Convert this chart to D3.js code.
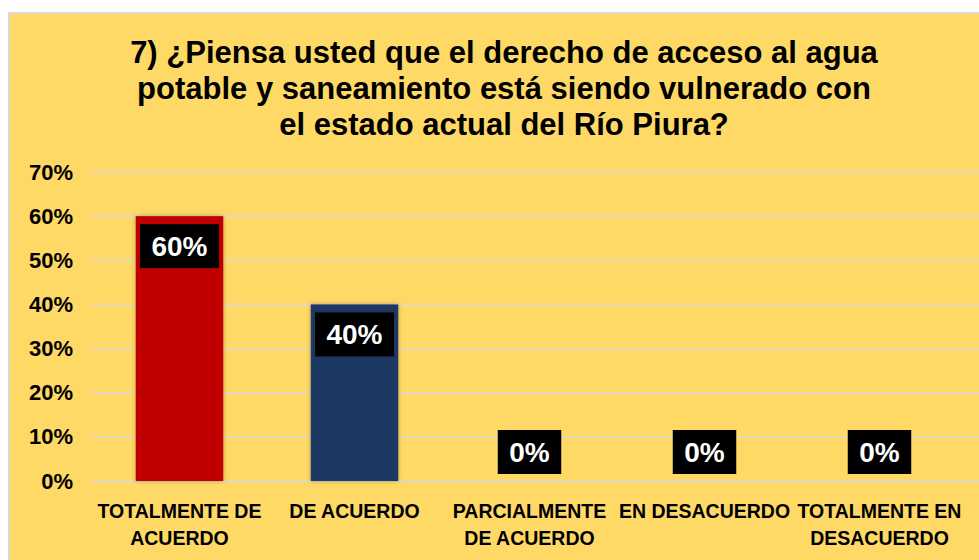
<!DOCTYPE html>
<html>
<head>
<meta charset="utf-8">
<script src="https://cdn.jsdelivr.net/npm/d3@7"></script>
<style>
    body { margin: 0; background: #fff; }
    svg { display: block; font-family: "Liberation Sans", Arial, sans-serif; }
</style>
</head>
<body>
<div id="chart"></div>
<script>
const titleLines = [
    '7) ¿Piensa usted que el derecho de acceso al agua',
    'potable y saneamiento está siendo vulnerado con',
    'el estado actual del Río Piura?'
];
const categories = [
    ['TOTALMENTE DE', 'ACUERDO'],
    ['DE ACUERDO'],
    ['PARCIALMENTE', 'DE ACUERDO'],
    ['EN DESACUERDO'],
    ['TOTALMENTE EN', 'DESACUERDO']
];
const values = [0.60, 0.40, 0, 0, 0];
const barColors = ['#C00000', '#1F3864', '#C00000', '#C00000', '#C00000'];
const yTicks = [0, 0.1, 0.2, 0.3, 0.4, 0.5, 0.6, 0.7];

const width = 979;
const height = 560;

const svg = d3.select('#chart')
    .append('svg')
    .attr('width', width)
    .attr('height', height);

// frame
svg.append('rect')
    .attr('x', 9)
    .attr('y', 13)
    .attr('width', width)
    .attr('height', height)
    .attr('fill', '#FFD966')
    .attr('stroke', '#D9D9D9')
    .attr('stroke-width', 2);

const defs = svg.append('defs');
const shadow = defs.append('filter').attr('id', 'shadow')
    .attr('x', '-20%').attr('y', '-20%').attr('width', '140%').attr('height', '140%');
shadow.append('feDropShadow')
    .attr('dx', 0).attr('dy', 0).attr('stdDeviation', 2)
    .attr('flood-color', '#000').attr('flood-opacity', 0.3);

// title
svg.append('text')
    .attr('font-size', '31px')
    .attr('font-weight', 'bold')
    .attr('text-anchor', 'middle')
    .attr('fill', '#000')
    .selectAll('tspan')
    .data(titleLines)
    .enter()
    .append('tspan')
    .attr('x', 504)
    .attr('y', (d, i) => 63 + i * 36)
    .text(d => d);

const x = d3.scaleBand()
    .domain(d3.range(categories.length))
    .range([92, 967])
    .paddingInner(0.5)
    .paddingOuter(0.25);

const y = d3.scaleLinear()
    .domain([0, 0.7])
    .range([481, 172]);

// gridlines
svg.append('g')
    .selectAll('line')
    .data(yTicks)
    .enter()
    .append('line')
    .attr('x1', 92)
    .attr('x2', 979)
    .attr('y1', d => y(d))
    .attr('y2', d => y(d))
    .attr('stroke', '#D9D9D9')
    .attr('stroke-width', 1.5);

// y axis labels
const yAxis = svg.append('g')
    .attr('transform', 'translate(73,0)')
    .call(d3.axisLeft(y).tickValues(yTicks).tickFormat(d3.format('.0%')).tickSize(0).tickPadding(0));
yAxis.select('.domain').remove();
yAxis.selectAll('text')
    .attr('font-family', '"Liberation Sans", Arial, sans-serif')
    .attr('font-size', '22px')
    .attr('font-weight', 'bold')
    .attr('fill', '#000');

// bars
svg.append('g')
    .selectAll('rect')
    .data(values)
    .enter()
    .append('rect')
    .attr('x', (d, i) => x(i))
    .attr('y', d => y(d))
    .attr('width', x.bandwidth())
    .attr('height', d => y(0) - y(d))
    .attr('fill', (d, i) => barColors[i])
    .attr('filter', 'url(#shadow)');

// data labels
const labels = svg.append('g')
    .selectAll('g')
    .data(values)
    .enter()
    .append('g');

labels.each(function(d, i) {
    const g = d3.select(this);
    const cx = x(i) + x.bandwidth() / 2;
    const boxH = 44;
    const top = d > 0 ? y(d) + 8 : y(0) - 7 - boxH;
    const t = g.append('text')
        .attr('x', cx)
        .attr('y', top + boxH / 2 + 10)
        .attr('text-anchor', 'middle')
        .attr('font-size', '28px')
        .attr('font-weight', 'bold')
        .attr('fill', '#fff')
        .text(d3.format('.0%')(d));
    const w = t.node().getComputedTextLength() + 23;
    g.insert('rect', 'text')
        .attr('x', cx - w / 2)
        .attr('y', top)
        .attr('width', w)
        .attr('height', boxH)
        .attr('fill', '#000');
});

// category labels
svg.append('g')
    .selectAll('text')
    .data(categories)
    .enter()
    .append('text')
    .attr('text-anchor', 'middle')
    .attr('font-size', '19.5px')
    .attr('font-weight', 'bold')
    .attr('fill', '#000')
    .each(function(lines, i) {
        const cx = x(i) + x.bandwidth() / 2;
        d3.select(this).selectAll('tspan')
            .data(lines)
            .enter()
            .append('tspan')
            .attr('x', cx)
            .attr('y', (d, j) => 518 + j * 27)
            .text(d => d);
    });
</script>
</body>
</html>
